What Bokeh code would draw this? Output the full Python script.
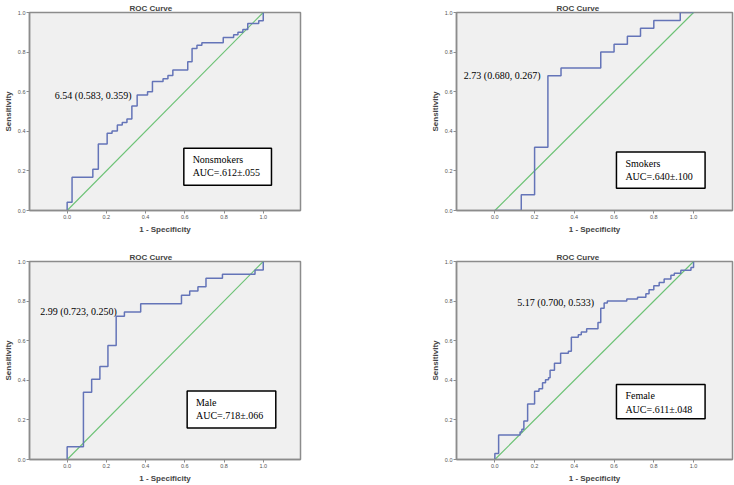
from bokeh.plotting import figure
from bokeh.models import Range1d, FixedTicker, BoxAnnotation, Label
from bokeh.layouts import column, row
from bokeh.embed import file_html
from bokeh.resources import INLINE

# ---- data ----
tick_values = [0.0, 0.2, 0.4, 0.6, 0.8, 1.0]
tick_labels = ["0.0", "0.2", "0.4", "0.6", "0.8", "1.0"]
diag_x = [0.0, 1.0]
diag_y = [0.0, 1.0]

groups = ["Nonsmokers", "Smokers", "Male", "Female"]
auc_texts = ["AUC=.612\u00b1.055", "AUC=.640\u00b1.100", "AUC=.718\u00b1.066", "AUC=.611\u00b1.048"]
cutoff_texts = ["6.54 (0.583, 0.359)", "2.73 (0.680, 0.267)", "2.99 (0.723, 0.250)", "5.17 (0.700, 0.533)"]

nonsmokers_fpr = [0, 0, 0.025, 0.131, 0.159, 0.204, 0.229, 0.256, 0.281, 0.305, 0.330, 0.357, 0.410, 0.435,
                  0.489, 0.514, 0.539, 0.615, 0.637, 0.662, 0.687, 0.796, 0.849, 0.871, 0.896, 0.921, 0.977, 1.0]
nonsmokers_tpr = [0, 0.042, 0.168, 0.208, 0.336, 0.390, 0.402, 0.432, 0.445, 0.462, 0.528, 0.583, 0.600, 0.652,
                  0.666, 0.682, 0.709, 0.751, 0.818, 0.835, 0.847, 0.874, 0.887, 0.900, 0.914, 0.945, 0.958, 1.0]

smokers_fpr = [0, 0.133, 0.200, 0.267, 0.333, 0.533, 0.600, 0.667, 0.733, 0.800, 0.933, 1.0]
smokers_tpr = [0, 0.080, 0.320, 0.680, 0.720, 0.800, 0.840, 0.880, 0.920, 0.960, 1.000, 1.0]

male_fpr = [0, 0, 0.083, 0.125, 0.167, 0.208, 0.250, 0.292, 0.375, 0.583, 0.625, 0.667, 0.708, 0.792, 0.958, 1.0]
male_tpr = [0, 0.064, 0.340, 0.405, 0.470, 0.576, 0.723, 0.745, 0.787, 0.830, 0.851, 0.872, 0.915, 0.936, 0.957, 1.0]

female_fpr = [0, 0, 0.019, 0.127, 0.136, 0.146, 0.165, 0.200, 0.222, 0.240, 0.255, 0.270, 0.278, 0.300, 0.331,
              0.370, 0.385, 0.420, 0.435, 0.462, 0.519, 0.533, 0.550, 0.566, 0.664, 0.718, 0.760, 0.776, 0.800,
              0.827, 0.852, 0.886, 0.903, 0.936, 0.987, 1.0]
female_tpr = [0, 0.030, 0.124, 0.139, 0.153, 0.194, 0.280, 0.345, 0.357, 0.388, 0.403, 0.413, 0.451, 0.486, 0.537,
              0.547, 0.618, 0.630, 0.644, 0.660, 0.692, 0.764, 0.790, 0.800, 0.810, 0.820, 0.837, 0.857, 0.877,
              0.894, 0.911, 0.931, 0.941, 0.956, 0.970, 1.0]

curves = [(nonsmokers_fpr, nonsmokers_tpr), (smokers_fpr, smokers_tpr),
          (male_fpr, male_tpr), (female_fpr, female_tpr)]

# ---- layout / styling (not data) ----
SANS = "Liberation Sans"
SERIF = "Liberation Serif"
FRAME_BG = "#f0f0f0"
AXIS_GRAY = "#8c8c8c"
ROC_COLOR = "#6474b8"
DIAG_COLOR = "#6cc275"

# (width, height, border_left, border_right, border_top, border_bottom)
sizes = [(380, 236, 25, 80, 12, 25), (354, 236, 76, 2, 12, 25),
         (380, 249, 25, 80, 25, 26), (354, 249, 76, 2, 25, 26)]
x_ranges = [(-0.192, 1.190), (-0.193, 1.196), (-0.192, 1.190), (-0.193, 1.196)]
# boxes: left, right, top, bottom (data units)
boxes = [(0.595, 1.042, 0.315, 0.128), (0.612, 1.058, 0.295, 0.112),
         (0.612, 1.064, 0.346, 0.159), (0.612, 1.058, 0.379, 0.206)]
cut_pos = [(-0.063, 0.579), (-0.156, 0.683), (-0.137, 0.749), (0.113, 0.794)]


def make_panel(i):
    w, h, bl, br, bt, bb = sizes[i]
    x0, x1 = x_ranges[i]
    p = figure(width=w, height=h, output_backend="svg", toolbar_location=None,
               x_range=Range1d(x0, x1), y_range=Range1d(0, 1),
               min_border_left=bl, min_border_right=br, min_border_top=bt, min_border_bottom=bb,
               background_fill_color=FRAME_BG, border_fill_color="white",
               outline_line_color=AXIS_GRAY, outline_line_width=1.5)
    p.xgrid.visible = False
    p.ygrid.visible = False

    p.title.text = "ROC Curve"
    p.title.align = "left"
    p.title.text_font = SANS
    p.title.text_font_size = "8px"
    p.title.text_font_style = "bold"
    p.title.text_line_height = 1.0
    p.title.standoff = 0
    p.title.offset = 100

    for ax in (p.xaxis[0], p.yaxis[0]):
        ax.ticker = FixedTicker(ticks=tick_values)
        ax.major_label_overrides = {v: t for v, t in zip(tick_values, tick_labels)}
        ax.minor_tick_line_color = None
        ax.major_tick_out = 3
        ax.major_tick_in = 0
        ax.major_tick_line_color = AXIS_GRAY
        ax.axis_line_color = AXIS_GRAY
        ax.axis_line_width = 1.5
        ax.major_label_text_font = SANS
        ax.major_label_text_font_size = "5.5px"
        ax.major_label_text_color = "#555555"
        ax.axis_label_text_font = SANS
        ax.axis_label_text_font_size = "8px"
        ax.axis_label_text_font_style = "bold"
    p.xaxis[0].major_label_standoff = 1
    p.xaxis[0].axis_label_standoff = 3
    p.yaxis[0].major_label_standoff = 1
    p.yaxis[0].axis_label_standoff = 2
    p.xaxis.axis_label = "1 - Specificity"
    p.yaxis.axis_label = "Sensitivity"

    p.segment(x0=[diag_x[0]], y0=[diag_y[0]], x1=[diag_x[1]], y1=[diag_y[1]],
              line_color=DIAG_COLOR, line_width=1.1)
    fpr, tpr = curves[i]
    p.step(fpr, tpr, mode="after", line_color=ROC_COLOR, line_width=1.5)

    l, r, t, b = boxes[i]
    p.add_layout(BoxAnnotation(left=l, right=r, top=t, bottom=b, fill_color="white", fill_alpha=1,
                               line_color="black", line_alpha=1, line_width=1.5))
    p.add_layout(Label(x=l + 0.045, y=t - 0.057, text=groups[i], text_font=SERIF, text_font_size="10px",
                       text_baseline="middle", text_color="black"))
    p.add_layout(Label(x=l + 0.045, y=t - 0.125, text=auc_texts[i], text_font=SERIF, text_font_size="10px",
                       text_baseline="middle", text_color="black"))
    cx, cy = cut_pos[i]
    p.add_layout(Label(x=cx, y=cy, text=cutoff_texts[i], text_font=SERIF, text_font_size="10px",
                       text_baseline="middle", text_color="black"))
    return p


panels = [make_panel(i) for i in range(4)]
layout = column(row(panels[0], panels[1]), row(panels[2], panels[3]))

open("out.html", "w").write(file_html(layout, INLINE))
